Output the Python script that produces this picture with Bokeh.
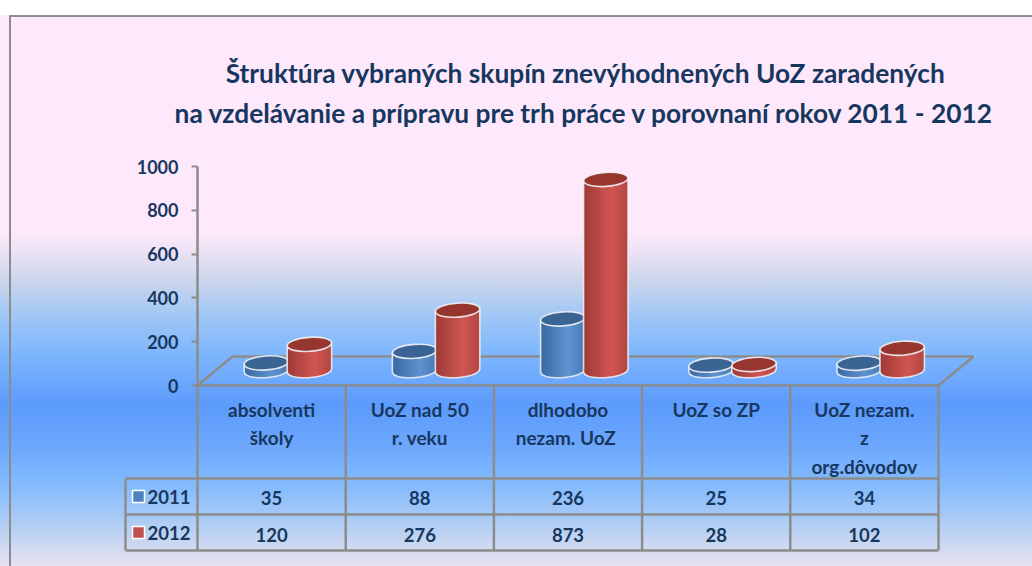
import math
from bokeh.plotting import figure
from bokeh.embed import file_html
from bokeh.resources import INLINE
from bokeh.core.properties import value

categories = ["absolventi\nškoly", "UoZ nad 50\nr. veku", "dlhodobo\nnezam.  UoZ", "UoZ so ZP", "UoZ nezam.\nz\norg.dôvodov"]
series_names = ["2011", "2012"]
values_2011 = [35, 88, 236, 25, 34]
values_2012 = [120, 276, 873, 28, 102]
y_ticks = [0, 200, 400, 600, 800, 1000]
title_lines = ["Štruktúra vybraných skupín znevýhodnených UoZ zaradených",
               "na vzdelávanie a prípravu pre trh práce v porovnaní rokov 2011 - 2012"]

FONT = "Lato"
INK = "#17375e"
GRID = "#8c8c8c"
CELL = 148.2
X0, Y0, YS = 197.0, 385.0, 0.219   # position of the origin, px per unit
W, H = 1032, 566

def X(px): return (px - X0) / CELL
def Y(py): return (Y0 - py) / YS

gradient = ("linear-gradient(to bottom, #ffffff 0px, #ffffff 15px, "
            "#fde9fb 15px, #fde9fb 232px, #f0e4f6 248px, #c9d5ec 282px, #9fc6f6 317px, #7fb7fd 352px, "
            "#5c9bfc 405px, #6da8fd 448px, #86bcfd 488px, #b5cff2 528px, #d6dcf0 552px, #e6e2f2 566px)")

p = figure(width=W, height=H, output_backend="svg", toolbar_location=None,
           x_range=(X(0), X(W)), y_range=(Y(H), Y(0)),
           min_border=0, min_border_left=0, min_border_right=0, min_border_top=0, min_border_bottom=0,
           border_fill_alpha=0, background_fill_alpha=0, outline_line_alpha=0,
           styles={"background": gradient})
p.grid.visible = False
p.xaxis.visible = False

ax = p.yaxis[0]
ax.fixed_location = 0
ax.ticker = y_ticks
ax.bounds = (0, 1000)
ax.axis_line_color = GRID
ax.axis_line_width = 2.5
ax.major_tick_line_color = GRID
ax.major_tick_line_width = 2
ax.major_tick_in = 0
ax.major_tick_out = 6
ax.minor_tick_line_color = None
ax.major_label_standoff = 13
ax.major_label_text_font = FONT
ax.major_label_text_font_style = "bold"
ax.major_label_text_font_size = "18px"
ax.major_label_text_color = INK

# outer frame: left and top edges only, as in the reference
p.line([X(9.5), X(9.5), X(W)], [Y(H), Y(15.5), Y(15.5)], line_color=GRID, line_width=2)

# title
p.text([X(585), X(584)], [Y(72), Y(112)], text=title_lines, text_font=value(FONT), text_font_style="bold",
       text_font_size="26.3px", text_color=INK, text_align="center", text_baseline="middle")

# 3D floor
p.line([X(197), X(232), X(973), X(938)], [Y(385), Y(356), Y(356), Y(385)], line_color=GRID, line_width=2.5)

# table
table_y = [Y(385), Y(478), Y(514), Y(550)]
n = len(categories)
for i in range(n + 1):
    p.segment(i, table_y[0], i, table_y[3], line_color=GRID, line_width=2.5)
for j, yy in enumerate(table_y):
    p.segment(0 if j == 0 else X(125), yy, n, yy, line_color=GRID, line_width=2.5)
p.segment(X(125), table_y[1], X(125), table_y[3], line_color=GRID, line_width=2.5)

centers = [i + 0.5 for i in range(n)]
p.text(centers, [Y(397)] * n, text=categories, text_font=value(FONT), text_font_style="bold",
       text_font_size="19px", text_color=INK, text_align="center", text_baseline="top", text_line_height=1.25)
for vals, py in ((values_2011, 497), (values_2012, 534)):
    p.text(centers, [Y(py)] * n, text=[str(v) for v in vals], text_font=value(FONT), text_font_style="bold",
           text_font_size="18.5px", text_color=INK, text_align="center", text_baseline="middle")

# legend keys in the table
for name, py, col in ((series_names[0], 496, "#4f81bd"), (series_names[1], 532, "#c0504d")):
    p.rect([X(138)], [Y(py)], width=12, height=12, width_units="screen", height_units="screen",
           fill_color=col, line_color="white", line_width=1.5)
    p.text([X(147)], [Y(py)], text=[name], text_font=value(FONT), text_font_style="bold",
           text_font_size="18.5px", text_color=INK, text_align="left", text_baseline="middle")

# cylinders
BASE = 68.0
HW = 0.150
B = 7.0 / YS
TILT = 0.07
STRIPS = 16

def mix(a, b, f):
    return tuple(int(round(a[k] + (b[k] - a[k]) * f)) for k in range(3))

def cylinder(cx, v, dark, light, top):
    s = TILT * HW * CELL / YS
    y_top = BASE + v
    for k in range(STRIPS):
        t0, t1 = -1 + 2 * k / STRIPS, -1 + 2 * (k + 1) / STRIPS
        tm = (t0 + t1) / 2
        f = max(0.0, 1 - abs(tm - 0.25) / 1.25)
        col = "#%02x%02x%02x" % mix(dark, light, f)
        t1x = min(1.0, t1 + 0.06)
        xs = [cx + t0 * HW, cx + t1x * HW, cx + t1x * HW, cx + t0 * HW]
        ys = [y_top + s * t0, y_top + s * t1x,
              BASE + s * t1x - B * math.sqrt(max(0, 1 - t1x * t1x)),
              BASE + s * t0 - B * math.sqrt(max(0, 1 - t0 * t0))]
        p.patch(xs, ys, fill_color=col, line_color=None)
    ts = [-1 + 2 * k / 40 for k in range(41)]
    xs = [cx + t * HW for t in ts] + [cx + HW, cx - HW]
    ys = [BASE + s * t - B * math.sqrt(max(0, 1 - t * t)) for t in ts] + [y_top + s, y_top - s]
    p.line(xs + [xs[0]], ys + [ys[0]], line_color="#f2f2f6", line_width=1.6, line_alpha=0.85)
    p.ellipse([cx], [y_top], width=2 * HW, height=2 * B, angle=math.atan(TILT),
              fill_color=top, line_color="#f2f2f6", line_width=1.6, line_alpha=0.9)

for i in range(n):
    cylinder(i + 0.465, values_2011[i], (58, 104, 160), (95, 148, 208), "#3a6494")
    cylinder(i + 0.755, values_2012[i], (158, 58, 54), (208, 86, 82), "#96362f")

open("out.html", "w").write(file_html(p, INLINE))
